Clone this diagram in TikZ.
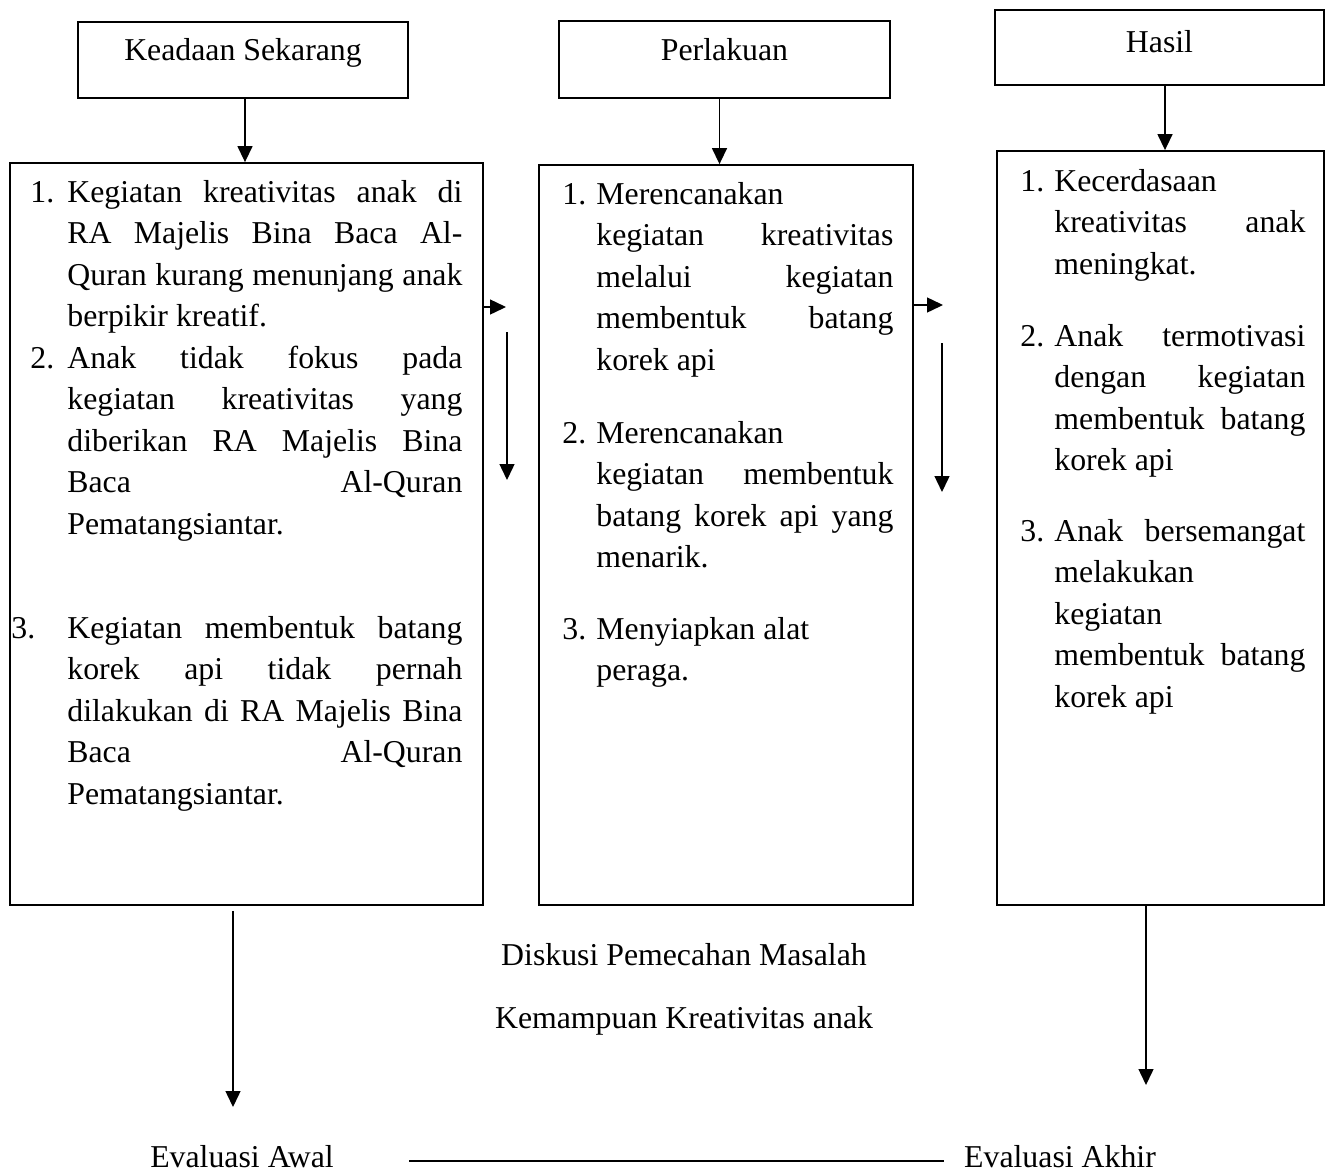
\documentclass[tikz,border=0pt]{standalone}
\usepackage{fontspec}
\setmainfont{Liberation Serif}
\usetikzlibrary{arrows.meta}
\hyphenpenalty=10000
\exhyphenpenalty=10000
\tolerance=10000
\hbadness=10000
\newcommand\bodyfont{\fontsize{15.9pt}{20.8pt}\selectfont}
\tikzset{
  box/.style={draw, line width=0.9pt, inner sep=0pt, rectangle},
  arr/.style={line width=0.7pt, -{Triangle[length=8pt,width=7.5pt]}},
  item/.style={anchor=base west, inner sep=0pt, align=justify, font=\bodyfont},
  num/.style={anchor=base west, inner sep=0pt, font=\bodyfont},
  lbl/.style={inner sep=0pt, font=\bodyfont, anchor=base},
}
\begin{document}
\begin{tikzpicture}[x=0.5pt,y=-0.5pt]
\useasboundingbox (0,0) rectangle (1332,1173);

% top boxes
\node[box, font=\bodyfont, anchor=north, minimum width=165pt, text height=19.5pt, text depth=18.5pt] (k1) at (243,21) {Keadaan Sekarang};
\node[box, font=\bodyfont, anchor=north, minimum width=165.5pt, text height=20pt, text depth=18.5pt] (k2) at (724.5,20) {Perlakuan};
\node[box, font=\bodyfont, anchor=north, minimum width=164.5pt, text height=21.5pt, text depth=16pt] (k3) at (1159.5,9) {Hasil};

% big boxes
\node[box, minimum width=236.5pt, minimum height=371pt] (b1) at (246.5,534) {};
\node[box, minimum width=187pt, minimum height=370pt] (b2) at (726,535) {};
\node[box, minimum width=163.5pt, minimum height=377pt] (b3) at (1160.5,528) {};

% arrows from top boxes
\draw[arr] ([xshift=1pt]k1.south) -- ([xshift=1pt]k1.south |- b1.north);
\draw[arr] ([xshift=-2.5pt]k2.south) -- ([xshift=-2.5pt]k2.south |- b2.north);
\draw[arr] ([xshift=2.75pt]k3.south) -- ([xshift=2.75pt]k3.south |- b3.north);

% items box 1
\node[num] (n11) at (30,202) {1.};
\node[item, text width=197.5pt] (i11) at (67,202) {Kegiatan kreativitas anak di\linebreak RA Majelis Bina Baca Al-\linebreak Quran kurang menunjang anak\linebreak berpikir kreatif.};
\node[num] (n12) at (30,368) {2.};
\node[item, text width=197.5pt] (i12) at (67,368) {Anak tidak fokus pada\linebreak kegiatan kreativitas yang\linebreak diberikan RA Majelis Bina\linebreak Baca Al-Quran\linebreak Pematangsiantar.};
\node[num] (n13) at (11,638) {3.};
\node[item, text width=197.5pt] (i13) at (67,638) {Kegiatan membentuk batang\linebreak korek api tidak pernah\linebreak dilakukan di RA Majelis Bina\linebreak Baca Al-Quran\linebreak Pematangsiantar.};

% items box 2
\node[num] (n21) at (562,204) {1.};
\node[item, text width=148.5pt] (i21) at (596,204) {Merencanakan\newline kegiatan kreativitas\linebreak melalui kegiatan\linebreak membentuk batang\linebreak korek api};
\node[num] (n22) at (562,443) {2.};
\node[item, text width=148.5pt] (i22) at (596,443) {Merencanakan\newline kegiatan membentuk\linebreak batang korek api yang\linebreak menarik.};
\node[num] (n23) at (562,639) {3.};
\node[item, text width=148.5pt] (i23) at (596,639) {Menyiapkan alat\newline peraga.};

% items box 3
\node[num] (n31) at (1020,191) {1.};
\node[item, text width=125.5pt] (i31) at (1054,191) {Kecerdasaan\newline kreativitas anak\linebreak meningkat.};
\node[num] (n32) at (1020,346) {2.};
\node[item, text width=125.5pt] (i32) at (1054,346) {Anak termotivasi\linebreak dengan kegiatan\linebreak membentuk batang\linebreak korek api};
\node[num] (n33) at (1020,541) {3.};
\node[item, text width=125.5pt] (i33) at (1054,541) {Anak bersemangat\linebreak melakukan\newline kegiatan\newline membentuk batang\linebreak korek api};

% side arrows
\coordinate (r1) at (506,307);
\draw[arr] (b1.east |- r1) -- (r1);
\coordinate (d1a) at (507,332);
\coordinate (d1b) at (507,480);
\draw[arr] (d1a) -- (d1b);
\coordinate (r2) at (943,305);
\draw[arr] (b2.east |- r2) -- (r2);
\coordinate (d2a) at (942,343);
\coordinate (d2b) at (942,492);
\draw[arr] (d2a) -- (d2b);

% bottom arrows
\coordinate (e1) at (233,1107);
\draw[arr] ([yshift=-2.5pt]b1.south -| e1) -- (e1);
\coordinate (e2) at (1146,1085);
\draw[arr] (b3.south -| e2) -- (e2);

% middle texts
\node[lbl] (t1) at (684,965) {Diskusi Pemecahan Masalah};
\node[lbl] (t2) at (684,1028) {Kemampuan Kreativitas anak};

% bottom
\node[lbl] (ea) at (242,1167) {Evaluasi Awal};
\node[lbl] (ez) at (1060,1167) {Evaluasi Akhir};
\coordinate (la) at (409,1161);
\coordinate (lb) at (944,1161);
\draw[line width=1pt] (la) -- (lb);
\end{tikzpicture}
\end{document}
